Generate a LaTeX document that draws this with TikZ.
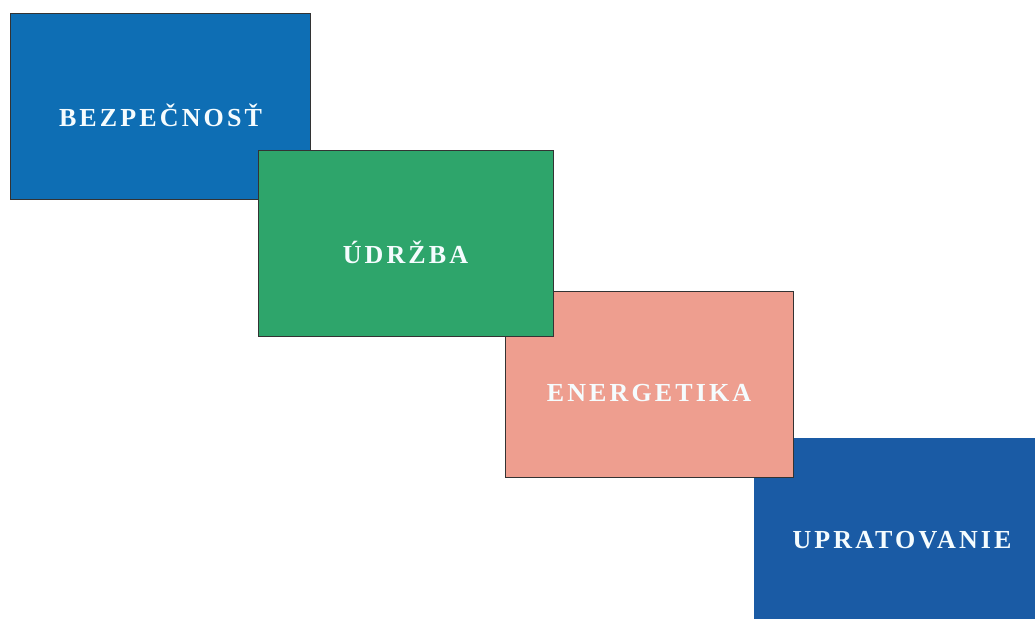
\documentclass[tikz,border=0pt]{standalone}
\usepackage{fontspec}
\setmainfont{Liberation Serif}
\newfontfamily\cardfont[LetterSpace=12]{Liberation Serif}
\definecolor{bezblue}{HTML}{0E6EB4}
\definecolor{udrgreen}{HTML}{2EA56B}
\definecolor{enesalmon}{HTML}{EE9E8F}
\definecolor{uprblue}{HTML}{1A5BA5}
\tikzset{
  card/.style={rectangle, minimum width=296pt, minimum height=186pt, inner sep=0pt},
  cardline/.style={draw=black!80, line width=1pt},
  cardtext/.style={text=white!96!cyan, font=\cardfont\bfseries\fontsize{26}{30}\selectfont}
}
\begin{document}
\begin{tikzpicture}[x=1pt, y=-1pt]
        \useasboundingbox (0,0) rectangle (1035,618);

        % Bezpecnost
        \node[card, cardline, fill=bezblue, minimum width=300pt] (bez) at (160.5,106.5) {};
        \node[cardtext] (beztext) at ([yshift=-9pt]bez.center) {BEZPEČNOSŤ};

        % Upratovanie (pod energetikou)
        \node[card, fill=uprblue] (upr) at (902,531) {};
        \node[cardtext] (uprtext) at ([yshift=-9pt]upr.center) {UPRATOVANIE};

        % Energetika
        \node[card, cardline, fill=enesalmon, minimum width=288pt] (ene) at (649,384.5) {};
        \node[cardtext] (enetext) at ([yshift=-9pt]ene.center) {ENERGETIKA};

        % Udrzba (navrchu)
        \node[card, cardline, fill=udrgreen, minimum width=295pt] (udr) at (405.5,243) {};
        \node[cardtext] (udrtext) at ([yshift=-9pt]udr.center) {ÚDRŽBA};
\end{tikzpicture}
\end{document}
